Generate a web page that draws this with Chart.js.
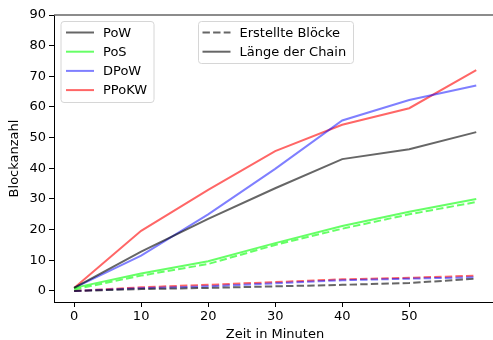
<!DOCTYPE html>
<html>
<head>
<meta charset="utf-8">
<script src="https://cdn.jsdelivr.net/npm/chart.js@4.4.1/dist/chart.umd.min.js"></script>
<style>
html, body { margin: 0; padding: 0; background: #fff; overflow: hidden; }
#wrap { width: 493px; height: 340px; }
</style>
</head>
<body>
<div id="wrap"><canvas id="chart" width="493" height="340"></canvas></div>
<script>
// time axis (minutes)
var minutes = [0, 10, 20, 30, 40, 50, 60];

// length of the chain (solid)
var chainPoW   = [1, 12.8, 23.5, 33.5, 43, 46.2, 51.8];
var chainPoS   = [1, 5.7, 9.7, 15.6, 21.2, 25.8, 30];
var chainDPoW  = [1, 11.5, 25, 39.8, 55.6, 62.3, 67];
var chainPPoKW = [1, 19.6, 33, 45.6, 54.2, 59.6, 72];

// created blocks (dashed)
var blocksPoW   = [0, 0.6, 1, 1.5, 2, 2.6, 4];
var blocksPoS   = [0.5, 5, 8.8, 15, 20.3, 25, 29];
var blocksDPoW  = [0, 0.9, 1.5, 2.5, 3.5, 4, 4.5];
var blocksPPoKW = [0, 1.2, 2, 2.9, 3.8, 4.3, 5];

var xTicks = [0, 10, 20, 30, 40, 50];
var yTicks = [0, 10, 20, 30, 40, 50, 60, 70, 80, 90];

var names  = ["PoW", "PoS", "DPoW", "PPoKW"];
var colors = ["rgba(0,0,0,0.6)", "rgba(0,255,0,0.6)", "rgba(0,0,255,0.5)", "rgba(255,0,0,0.6)"];
var dash = [7.4, 3.2];
var FONT = "13px 'DejaVu Sans'";

function pts(arr) {
	return arr.map(function(v, i) { return {x: minutes[i], y: v}; });
}

function line(arr, color, dashed) {
	return {
		data: pts(arr),
		borderColor: color,
		backgroundColor: color,
		borderWidth: 2,
		borderDash: dashed ? dash : [],
		pointRadius: 0,
		tension: 0,
		fill: false
	};
}

var chainSets  = [chainPoW, chainPoS, chainDPoW, chainPPoKW];
var blockSets  = [blocksPoW, blocksPoS, blocksDPoW, blocksPPoKW];
var datasets = [];
for (var i = 0; i < 4; i++) {
	datasets.push(line(blockSets[i], colors[i], true));
	datasets.push(line(chainSets[i], colors[i], false));
}

// legends, axis titles and top spine
var extras = {
	id: "extras",
	afterDraw: function(chart) {
		var ctx = chart.ctx, a = chart.chartArea;
		ctx.save();

		// top spine
		ctx.strokeStyle = "#666";
		ctx.lineWidth = 1.4;
		ctx.beginPath();
		ctx.moveTo(a.left, a.top);
		ctx.lineTo(a.right, a.top);
		ctx.stroke();

		function box(x, y, w, h) {
			var r = 3;
			ctx.beginPath();
			ctx.moveTo(x + r, y);
			ctx.arcTo(x + w, y, x + w, y + h, r);
			ctx.arcTo(x + w, y + h, x, y + h, r);
			ctx.arcTo(x, y + h, x, y, r);
			ctx.arcTo(x, y, x + w, y, r);
			ctx.closePath();
			ctx.fillStyle = "rgba(255,255,255,0.8)";
			ctx.fill();
			ctx.strokeStyle = "#d6d6d6";
			ctx.lineWidth = 1;
			ctx.stroke();
		}

		function entry(x, y, color, dashed, label) {
			ctx.strokeStyle = color;
			ctx.lineWidth = 2;
			ctx.setLineDash(dashed ? dash : []);
			ctx.beginPath();
			ctx.moveTo(x, y);
			ctx.lineTo(x + 28, y);
			ctx.stroke();
			ctx.setLineDash([]);
			ctx.fillStyle = "#000";
			ctx.font = FONT;
			ctx.textBaseline = "middle";
			ctx.textAlign = "left";
			ctx.fillText(label, x + 37, y + 1);
		}

		var lx = a.left + 7, ly = a.top + 6.5;
		box(lx, ly, 93, 81);
		for (var i = 0; i < names.length; i++) {
			entry(lx + 5, ly + 11 + i * 19.2, colors[i], false, names[i]);
		}

		var rx = a.left + 144.5;
		box(rx, ly, 155, 42);
		entry(rx + 4, ly + 11, "rgba(0,0,0,0.6)", true, "Erstellte Blöcke");
		entry(rx + 4, ly + 30.2, "rgba(0,0,0,0.6)", false, "Länge der Chain");

		// axis titles
		ctx.fillStyle = "#000";
		ctx.font = FONT;
		ctx.textAlign = "center";
		ctx.textBaseline = "alphabetic";
		ctx.fillText("Zeit in Minuten", (a.left + 496) / 2, 338);
		ctx.translate(18, (a.top + a.bottom) / 2);
		ctx.rotate(-Math.PI / 2);
		ctx.fillText("Blockanzahl", 0, 0);

		ctx.restore();
	}
};

var tickFont = {family: "'DejaVu Sans'", size: 13};

new Chart(document.getElementById("chart"), {
	type: "line",
	data: {datasets: datasets},
	options: {
		responsive: false,
		animation: false,
		layout: {padding: {top: 15, right: 0, left: 0, bottom: 0}},
		plugins: {legend: {display: false}, tooltip: {enabled: false}},
		scales: {
			x: {
				type: "linear",
				min: -3,
				max: 62.5,
				afterBuildTicks: function(s) { s.ticks = xTicks.map(function(v) { return {value: v}; }); },
				afterFit: function(s) { s.height = 38; },
				grid: {display: true, drawOnChartArea: false, drawTicks: true, tickLength: 5, color: "#000"},
				border: {display: true, color: "#000", width: 1},
				ticks: {font: tickFont, color: "#000", padding: 2, maxRotation: 0}
			},
			y: {
				type: "linear",
				min: -3.6,
				max: 90,
				afterBuildTicks: function(s) { s.ticks = yTicks.map(function(v) { return {value: v}; }); },
				afterFit: function(s) { s.width = 54; },
				grid: {display: true, drawOnChartArea: false, drawTicks: true, tickLength: 5, color: "#000"},
				border: {display: true, color: "#000", width: 1},
				ticks: {font: tickFont, color: "#000", padding: 3}
			}
		}
	},
	plugins: [extras]
});
</script>
</body>
</html>
